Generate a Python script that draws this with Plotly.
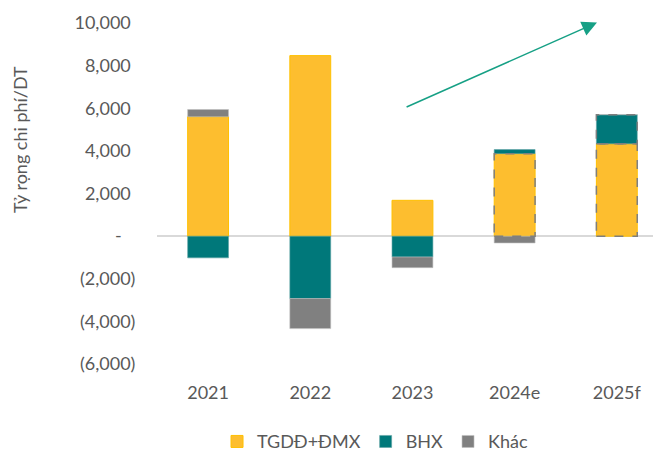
import plotly.graph_objects as go

years = ["2021", "2022", "2023", "2024e", "2025f"]
tgdd_dmx = [5600, 8470, 1680, 3870, 4330]
bhx = [-1020, -2930, -980, 190, 1370]
khac = [340, -1410, -500, -320, 0]

y_ticks = [10000, 8000, 6000, 4000, 2000, 0, -2000, -4000, -6000]
y_tick_text = ["10,000", "8,000", "6,000", "4,000", "2,000", "-",
               "(2,000)", "(4,000)", "(6,000)"]

# forecast segments outlined with a dashed border
forecast_tgdd = ["2024e", "2025f"]
forecast_bhx = ["2025f"]

FONT = "Lato, 'Open Sans', sans-serif"
GREY_TEXT = "#595959"
BAR_W = 0.4


def tick_label(t):
    # accounting-style padding so positive numbers line up with "(x)"
    if t.startswith("("):
        return t
    if t == "-":
        return t + "\u00a0" * 3
    return t + "\u00a0"


fig = go.Figure()

fig.add_trace(
    go.Bar(
        x=years, y=tgdd_dmx, name="TGDĐ+ĐMX", width=BAR_W,
        marker=dict(color="#FDBE2F", line=dict(color="#FFC000", width=1)),
    )
)
fig.add_trace(
    go.Bar(
        x=years, y=bhx, name="BHX", width=BAR_W,
        marker=dict(color="#00787A", line=dict(color="#5FA3A4", width=0.6)),
    )
)
fig.add_trace(
    go.Bar(
        x=years, y=khac, name="Khác", width=BAR_W,
        marker=dict(color="#808080", line=dict(color="#BFBFBF", width=0.6)),
    )
)

# dashed outlines for estimate / forecast years
for yr in forecast_tgdd:
    i = years.index(yr)
    fig.add_shape(
        type="rect", xref="x", yref="y",
        x0=i - BAR_W / 2, x1=i + BAR_W / 2, y0=0, y1=tgdd_dmx[i],
        line=dict(color="#7F7F7F", width=1.5, dash="dash"),
    )
for yr in forecast_bhx:
    i = years.index(yr)
    fig.add_shape(
        type="rect", xref="x", yref="y",
        x0=i - BAR_W / 2, x1=i + BAR_W / 2,
        y0=tgdd_dmx[i], y1=tgdd_dmx[i] + bhx[i],
        line=dict(color="#7F7F7F", width=1.5, dash="dash"),
    )

# trend arrow
fig.add_annotation(
    x=3.806, y=10020, ax=1.928, ay=6030,
    xref="x", yref="y", axref="x", ayref="y",
    showarrow=True, arrowhead=2, arrowsize=2, arrowwidth=1.5,
    arrowcolor="#16A085", text="",
)

# y axis title
fig.add_annotation(
    text="Tỷ rọng chi phí/DT", textangle=-90,
    xref="paper", yref="paper", x=-0.276, y=0.657,
    xanchor="center", yanchor="middle", showarrow=False,
    font=dict(family=FONT, size=18, color=GREY_TEXT),
)

fig.update_layout(
    width=653,
    height=451,
    barmode="relative",
    plot_bgcolor="white",
    paper_bgcolor="white",
    margin=dict(l=157, r=0, t=23, b=87, autoexpand=False),
    font=dict(family=FONT, size=18, color=GREY_TEXT),
    showlegend=True,
    legend=dict(
        orientation="h", x=0.121, xanchor="left", y=-0.228, yanchor="middle",
        font=dict(family=FONT, size=18, color=GREY_TEXT),
        itemwidth=30, traceorder="normal",
    ),
    xaxis=dict(
        range=[-0.5, 4.354], showgrid=False, showline=False,
        ticks="outside", ticklen=12, tickcolor="rgba(0,0,0,0)",
    ),
    yaxis=dict(
        range=[-6000, 10000], showgrid=False, showline=False,
        tickvals=y_ticks, ticktext=[tick_label(t) for t in y_tick_text],
        ticks="outside", ticklen=17, tickcolor="rgba(0,0,0,0)",
        zeroline=True, zerolinecolor="#D9D9D9", zerolinewidth=2,
    ),
)

# drop the browser's default page margin so the chart sits at the top-left
fig.write_html(
    "out.html",
    config={"displayModeBar": False},
    post_script="document.body.style.margin='0';",
)
